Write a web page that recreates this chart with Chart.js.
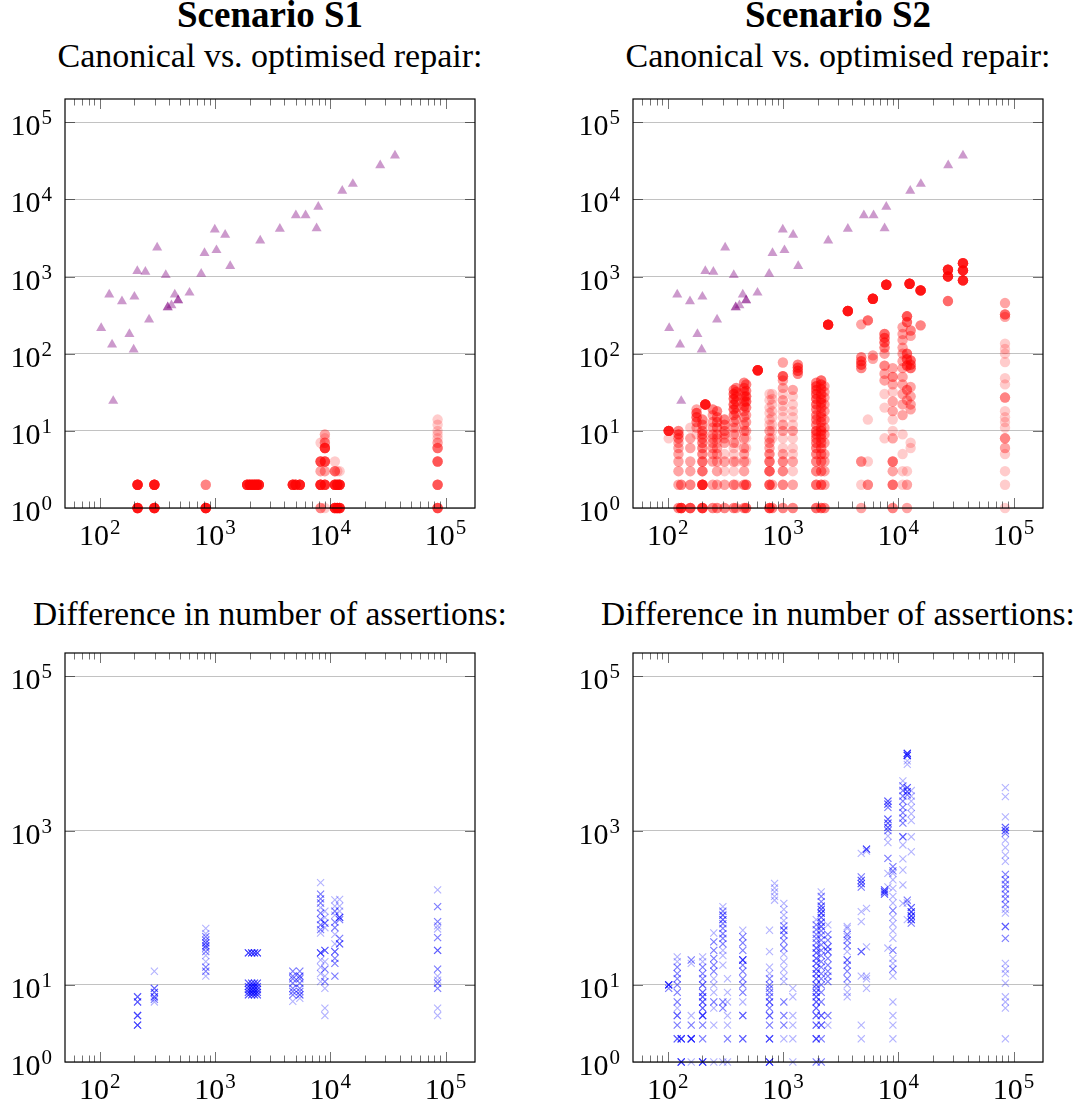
<!DOCTYPE html>
<html>
<head>
<meta charset="utf-8">
<script src="https://cdn.jsdelivr.net/npm/chart.js@4.4.0/dist/chart.umd.min.js"></script>
<style>
    html, body { margin: 0; padding: 0; background: #fff; }
    body { width: 1078px; height: 1105px; position: relative; overflow: hidden; font-family: 'Liberation Serif', serif; color: #000; }
    .title { position: absolute; width: 540px; text-align: center; line-height: 1; white-space: nowrap; }
    .head { font-weight: bold; font-size: 37px; }
    .sub { font-size: 34px; }
    canvas { position: absolute; }
</style>
</head>
<body>
<div class="title head" style="left:0; top:-4px">Scenario S1</div>
<div class="title head" style="left:568px; top:-4px">Scenario S2</div>
<div class="title sub" style="left:0; top:39px">Canonical vs. optimised repair:</div>
<div class="title sub" style="left:568px; top:39px">Canonical vs. optimised repair:</div>
<div class="title sub" style="left:0; top:597px; font-size:33.5px">Difference in number of assertions:</div>
<div class="title sub" style="left:568px; top:597px; font-size:33.5px">Difference in number of assertions:</div>

<canvas id="s1Repair"></canvas>
<canvas id="s2Repair"></canvas>
<canvas id="s1Diff"></canvas>
<canvas id="s2Diff"></canvas>

<script>
// Axis ranges / ticks
const xRange = [50, 180000];
const yRange = [1, 200000];
const xMajor = [100, 1000, 10000, 100000];
const yTicksTop = [1, 10, 100, 1000, 10000, 100000];
const yTicksBottom = [1, 10, 1000, 100000];

// Canonical repair (same runs in both scenarios)
const canonX = [103, 121, 128, 131, 156, 181, 197, 200, 212, 249, 268, 315, 374, 389, 389, 419, 448, 479, 479, 601,
    759, 811, 996, 1030, 1225, 1355, 2467, 3652, 5029, 6105, 7609, 7870, 12700, 15700, 27100, 36400];
const canonY = [215, 582, 131, 24.4, 476, 180, 113, 548, 1175, 1153, 276, 2379, 1042, 398, 398, 423, 582, 491, 491, 617,
    1087, 2009, 4066, 2196, 3474, 1364, 2930, 4155, 6226, 6226, 4228, 8000, 12880, 15850, 27600, 36900];

// Optimised repair, per input size: [size, [[value, runs], ...]]
const s1Repair = [
    [213, [[2, 12], [1, 12]]],
    [298, [[2, 12], [1, 12]]],
    [832, [[2, 3], [1, 12]]],
    [1900, [[2, 10]]], [2000, [[2, 10]]], [2100, [[2, 10]]], [2200, [[2, 10]]], [2300, [[2, 10]]], [2400, [[2, 10]]],
    [4730, [[2, 10]]], [5000, [[2, 8]]], [5440, [[2, 10]]],
    [8240, [[7, 1], [4, 6], [3, 2], [2, 10], [1, 3]]],
    [8980, [[9, 2], [8, 1], [7, 3], [6, 8], [4, 6], [3, 2], [2, 8], [1, 1]]],
    [10960, [[4, 1], [3, 4], [2, 10], [1, 10]]],
    [11500, [[3, 1], [2, 8], [1, 10]]],
    [12050, [[3, 1], [2, 10], [1, 10]]],
    [85300, [[14, 1], [12, 1], [10, 1], [9, 1], [8, 1], [7, 2], [6, 4], [4, 5], [2, 5], [1, 6]]]
];

const s2Repair = [
    [102, [[10, 10], [8, 1]]],
    [124, [[10, 3], [9, 4], [8, 3], [7, 2], [6, 2], [5, 2], [4, 2], [3, 2], [2, 2], [1, 3]]],
    [131, [[2, 3], [1, 8]]],
    [157, [[11, 1], [8, 2], [6, 2], [4, 2], [3, 2], [2, 3], [1, 6]]],
    [178, [[19, 2], [17, 4], [15, 4], [13, 3], [11, 2], [9, 1]]],
    [200, [[14, 3], [12, 3], [10, 3], [9, 3], [8, 3], [7, 3], [6, 3], [5, 3], [4, 4], [3, 4], [2, 10], [1, 8]]],
    [212, [[22, 12]]],
    [246, [[19, 3], [16, 2], [13, 2], [11, 2], [9, 2], [8, 2], [7, 2], [6, 2], [5, 2], [4, 2], [2, 2], [1, 3]]],
    [268, [[18, 3], [15, 3], [13, 3], [11, 3], [9, 2], [8, 2], [7, 1], [6, 2], [5, 2], [4, 2], [3, 2], [2, 2], [1, 3]]],
    [311, [[14, 3], [12, 3], [10, 3], [9, 2], [8, 2], [7, 2], [5, 1], [4, 2], [3, 1], [2, 2], [1, 3]]],
    [374, [[34, 3], [30, 4], [26, 4], [22, 4], [19, 4], [16, 3], [13, 2], [11, 2], [9, 2], [7, 2], [6, 1], [5, 1], [4, 2], [3, 1], [2, 3], [1, 3]]],
    [392, [[36, 3], [32, 3], [28, 3], [24, 3], [20, 2], [17, 2], [14, 2], [11, 1], [9, 1], [7, 1], [4, 1], [2, 1], [1, 2]]],
    [460, [[42, 3], [36, 3], [32, 3], [28, 3], [24, 3], [21, 3], [18, 2], [15, 2], [12, 2], [10, 2], [8, 2], [6, 2], [5, 2], [4, 2], [3, 2], [2, 3], [1, 3]]],
    [479, [[40, 3], [33, 3], [28, 4], [24, 4], [20, 3], [16, 2], [13, 2], [10, 2], [8, 1], [6, 1], [4, 1], [2, 4], [1, 4]]],
    [604, [[61, 12]]],
    [764, [[30, 1], [25, 1], [20, 1], [17, 1], [14, 1], [12, 1], [10, 2], [8, 2], [7, 2], [6, 2], [5, 3], [4, 4], [3, 5], [2, 5], [1, 6]]],
    [806, [[30, 1], [26, 1], [22, 1], [18, 1], [15, 1], [12, 1], [10, 1], [8, 1], [2, 2], [1, 3]]],
    [998, [[77, 2], [51, 5], [45, 2], [36, 2], [30, 1], [25, 2], [21, 1], [18, 1], [15, 1], [12, 2], [10, 2], [8, 1], [6, 1], [5, 2], [4, 3], [3, 3], [2, 3], [1, 3]]],
    [1217, [[34, 2], [28, 1], [22, 1], [18, 1], [15, 1], [12, 1], [10, 2], [8, 1], [6, 1], [5, 1], [4, 2], [3, 1], [2, 2], [1, 3]]],
    [1345, [[72, 3], [66, 4], [60, 4], [55, 3]]],
    [1942, [[42, 3], [38, 4], [34, 4], [30, 4], [26, 4], [22, 4], [19, 3], [16, 3], [14, 3], [12, 3], [10, 4], [9, 3], [8, 3], [7, 3], [6, 3], [5, 3], [4, 3], [3, 3], [2, 4], [1, 4]]],
    [2143, [[45, 4], [40, 4], [35, 4], [30, 4], [26, 4], [23, 4], [20, 3], [17, 3], [15, 3], [13, 3], [11, 3], [10, 3], [9, 3], [8, 3], [7, 3], [6, 3], [5, 3], [4, 3], [3, 3], [2, 4], [1, 4]]],
    [2290, [[38, 2], [32, 2], [27, 2], [22, 2], [18, 2], [14, 2], [11, 2], [9, 2], [7, 2], [5, 2], [4, 2], [3, 2], [2, 2], [1, 3]]],
    [2462, [[238, 12]]],
    [3651, [[357, 12]]],
    [4774, [[240, 2], [90, 3], [80, 4], [72, 4], [65, 3], [4, 3], [2, 1], [1, 2]]],
    [5447, [[270, 4], [14, 1], [4, 1], [2, 3]]],
    [6021, [[516, 12], [95, 2], [86, 2]]],
    [7600, [[180, 4], [160, 4], [140, 4], [120, 3], [100, 2], [70, 3], [55, 2], [45, 2], [30, 1], [20, 1], [8, 1]]],
    [7870, [[783, 12]]],
    [8950, [[65, 2], [50, 3], [40, 2], [32, 1], [24, 2], [18, 2], [14, 1], [10, 1], [8, 2], [4, 4], [3, 2], [2, 4], [1, 3]]],
    [10900, [[220, 2], [180, 2], [150, 2], [120, 2], [100, 2], [80, 2], [65, 2], [50, 2], [40, 2], [30, 2], [22, 2], [16, 2], [9, 1], [5, 1], [3, 1], [2, 1]]],
    [11900, [[305, 5], [257, 4], [100, 4], [85, 4], [70, 4], [34, 3], [25, 2], [3, 1], [2, 2], [1, 2]]],
    [12530, [[807, 12]]],
    [12800, [[200, 3], [170, 2], [82, 4], [72, 4], [65, 4], [37, 2], [28, 2], [22, 2], [19, 2], [7, 1], [6, 1]]],
    [15620, [[661, 12], [233, 3]]],
    [26970, [[1225, 10], [1003, 10], [481, 4]]],
    [36390, [[1490, 10], [1200, 10], [891, 10]]],
    [84300, [[453, 2], [323, 4], [300, 2], [135, 1], [115, 1], [100, 1], [78, 1], [48, 1], [40, 1], [27, 3], [18, 1], [15, 1], [13, 1], [11, 1], [8, 3], [6, 2], [5, 1], [3, 1], [2, 1], [1, 1]]]
];

// Difference in number of assertions
const s1Diff = [
    [213, [[7, 3], [6, 3], [4, 4], [3, 4]]],
    [298, [[15, 1], [9, 3], [8, 3], [7, 3], [6.5, 2], [6, 1]]],
    [832, [[54, 1], [46, 1], [42, 2], [38, 2], [35, 3], [32, 3], [30, 2], [27, 2], [24, 1], [20, 1], [17, 2], [15, 2], [13, 1]]],
    [1950, [[26, 4], [10.5, 3], [9.5, 3], [8.7, 3], [8, 3], [7.4, 3]]],
    [2080, [[26, 4], [10.5, 3], [9.5, 3], [8.7, 3], [8, 3], [7.4, 3]]],
    [2200, [[26, 4], [10.5, 3], [9.5, 3], [8.7, 3], [8, 3], [7.4, 3]]],
    [2330, [[26, 4], [10.5, 3], [9.5, 3], [8.7, 3], [8, 3], [7.4, 3]]],
    [4730, [[15, 2], [13, 2], [12, 2], [10.5, 2], [9, 2], [8.2, 2], [7.4, 2], [6.1, 1]]],
    [5440, [[15, 2], [13, 3], [12, 2], [10.5, 2], [9, 2], [8.2, 2], [7.4, 3], [6.7, 1]]],
    [8240, [[211, 1], [150, 2], [130, 2], [115, 2], [100, 1], [85, 2], [70, 2], [60, 2], [52, 2], [47, 1], [26, 4], [21, 1], [17, 1], [14, 1], [11, 1]]],
    [8980, [[90, 1], [75, 1], [63, 3], [55, 1], [28, 3], [20, 1], [16, 2], [13, 1], [11, 2], [9, 1], [5, 1], [4, 1]]],
    [10960, [[126, 1], [105, 1], [90, 2], [80, 1], [65, 2], [55, 2], [45, 1], [34, 1], [27, 3], [22, 2], [19, 2], [13, 2]]],
    [12050, [[128, 1], [105, 1], [90, 1], [75, 4], [70, 2], [40, 2], [34, 3]]],
    [85300, [[170, 1], [103, 2], [66, 2], [58, 1], [53, 1], [41, 2], [28, 3], [16, 2], [13, 1], [11.5, 1], [10.5, 2], [9, 2], [5, 1], [4, 1]]]
];

const s2Diff = [
    [102, [[10, 6], [9, 2]]],
    [121, [[23, 1], [20, 1], [17, 2], [14, 2], [12, 2], [10, 2], [8, 2], [6, 2], [5, 1], [4, 3], [3, 2], [2, 3]]],
    [131, [[2, 5], [1, 5]]],
    [160, [[21, 2], [19, 1], [4, 1], [3, 2], [2, 6], [1, 1]]],
    [201, [[23, 1], [20, 1], [17, 2], [14, 2], [12, 2], [10, 3], [8, 3], [7, 3], [6, 3], [5, 3], [4, 5], [3, 2], [2, 2], [1, 5]]],
    [251, [[47, 1], [36, 2], [28, 2], [22, 2], [18, 2], [15, 2], [12, 1], [10, 1], [8, 1], [6, 2], [5, 1], [3, 1], [1, 1]]],
    [301, [[103, 1], [90, 2], [80, 3], [70, 3], [62, 2], [54, 2], [46, 2], [40, 2], [34, 2], [28, 1], [24, 1], [18, 1], [6, 2], [5, 2], [1, 1]]],
    [330, [[12, 1], [8, 1], [6, 1], [4, 1], [3, 1], [2, 2], [1, 1]]],
    [448, [[51, 1], [42, 2], [35, 2], [28, 2], [21, 5], [18, 2], [15, 2], [12, 2], [10, 2], [8, 2], [6, 1], [4, 3], [2, 3]]],
    [764, [[51, 1], [27, 1], [17, 1], [14, 1], [12, 2], [10, 2], [9, 2], [8, 2], [7, 2], [6, 3], [5, 2], [4, 3], [3, 2], [2, 4], [1, 5]]],
    [845, [[207, 1], [180, 1], [160, 1], [140, 1], [125, 1]]],
    [1017, [[114, 1], [95, 1], [80, 1], [68, 1], [58, 2], [51, 3], [44, 2], [37, 2], [30, 2], [25, 1], [20, 1], [16, 1], [13, 1], [11, 1], [6, 2], [4, 2], [3, 2], [2, 1]]],
    [1217, [[9, 1], [7, 1], [4, 1], [3, 1], [2, 1], [1, 1]]],
    [1942, [[70, 1], [60, 2], [52, 2], [45, 2], [40, 2], [35, 2], [30, 3], [26, 3], [22, 3], [19, 3], [16, 3], [14, 3], [12, 3], [10, 3], [9, 2], [8, 3], [7, 3], [6, 3], [5, 3], [4, 3], [3, 3], [2, 4], [1, 2]]],
    [2146, [[160, 1], [140, 2], [120, 2], [105, 3], [95, 3], [85, 4], [75, 3], [65, 3], [57, 3], [50, 2], [44, 2], [38, 2], [33, 2], [28, 2], [24, 2], [20, 2], [17, 2], [14, 2], [12, 2], [10, 2], [8, 2], [6, 2], [4, 3], [3, 3], [2, 2], [1, 2]]],
    [2450, [[60, 1], [45, 2], [38, 2], [31, 3], [27, 3], [22, 2], [18, 2], [15, 2], [13, 2], [11, 2], [4, 2], [3, 1]]],
    [3606, [[57, 1], [54, 1], [45, 2], [42, 1], [38, 2], [32, 2], [27, 1], [21, 3], [18, 2], [15, 2], [12, 2], [10, 1], [8, 1], [7, 1]]],
    [4774, [[505, 1], [250, 2], [225, 3], [205, 3], [185, 2], [89, 1], [66, 1], [27, 3], [13, 1], [3, 1], [2, 1]]],
    [5300, [[573, 4], [540, 1], [98, 1], [31, 1], [13, 1], [12, 1], [9, 1]]],
    [7600, [[170, 3], [160, 4], [150, 3]]],
    [8130, [[2400, 3], [2200, 3], [2000, 2], [1400, 3], [1250, 3], [1100, 3], [1000, 2], [850, 1], [700, 1], [436, 2], [279, 1], [186, 1], [30, 1]]],
    [8980, [[340, 2], [300, 2], [279, 1], [230, 1], [178, 1], [140, 1], [115, 1], [92, 2], [75, 1], [62, 1], [50, 1], [40, 1], [28, 2], [22, 1], [19, 1], [16, 2], [13, 1], [6, 1], [4, 1], [3, 1], [2, 1]]],
    [10960, [[4400, 1], [3800, 2], [3300, 2], [2800, 2], [2400, 2], [2000, 2], [1700, 2], [1450, 2], [1250, 2], [830, 3], [650, 1], [430, 1], [308, 1], [197, 1], [114, 1]]],
    [11970, [[10000, 5], [9400, 5], [8000, 1], [7200, 1], [3600, 3], [3200, 3], [2900, 2], [125, 2], [115, 1], [70, 1]]],
    [12960, [[3300, 1], [2800, 1], [2400, 1], [2000, 1], [1650, 1], [1350, 1], [830, 1], [531, 1], [100, 3], [88, 4], [78, 4], [70, 4], [63, 2]]],
    [84900, [[3600, 1], [2750, 1], [1500, 1], [1100, 3], [1000, 3], [920, 2], [750, 1], [600, 1], [480, 1], [400, 1], [270, 2], [230, 2], [200, 2], [175, 2], [150, 2], [130, 2], [110, 2], [95, 1], [85, 1], [57, 3], [40, 2], [19, 1], [16, 1], [14, 1], [10.5, 1], [7, 1], [6, 1], [5, 1], [2, 1]]]
];

// Layout
const PAD = { l: 64, t: 12, r: 12, b: 46 };
const BOX = 410;
const BOXH = 409;
const FONT = "'Liberation Serif', serif";

// every run is one semi-transparent mark, so repeated runs darken
function expand(cols) {
    const pts = [];
    cols.forEach(([x, runs]) => runs.forEach(([y, n]) => {
        for (let i = 0; i < n; i++) pts.push({ x: x, y: y });
    }));
    return pts;
}

const canonPts = canonX.map((x, i) => ({ x: x, y: canonY[i] }));

function triangles() {
    return { data: canonPts, pointStyle: 'triangle', pointRadius: 5.8, backgroundColor: 'rgba(128,0,128,0.4)', borderWidth: 0, clip: false };
}
function circles(cols) {
    return { data: expand(cols), pointStyle: 'circle', pointRadius: 5.2, backgroundColor: 'rgba(255,0,0,0.2)', borderWidth: 0, clip: false };
}
function crosses(cols) {
    return { data: expand(cols), pointStyle: 'crossRot', pointRadius: 5, borderColor: 'rgba(0,0,255,0.3)', borderWidth: 1.1, clip: false };
}

// "10" with a raised exponent
function drawPow(ctx, exp, x, base, align) {
    ctx.font = '30px ' + FONT;
    const w10 = ctx.measureText('10').width;
    ctx.font = '21px ' + FONT;
    const we = ctx.measureText(String(exp)).width;
    const start = align === 'right' ? x - we - w10 - 1 : x - (w10 + 1 + we) / 2;
    ctx.fillStyle = '#000';
    ctx.textAlign = 'left';
    ctx.textBaseline = 'alphabetic';
    ctx.font = '30px ' + FONT;
    ctx.fillText('10', start, base);
    ctx.font = '21px ' + FONT;
    ctx.fillText(String(exp), start + w10 + 1, base - 11);
}

// frame, inward ticks and labels (pgfplots style)
const axisFrame = {
    id: 'axisFrame',
    afterDraw(chart) {
        const ctx = chart.ctx;
        const a = chart.chartArea;
        const xs = chart.scales.x, ys = chart.scales.y;
        const yTicks = chart.options.plugins.axisFrame.yTicks;
        ctx.save();
        ctx.strokeStyle = 'rgba(0,0,0,0.55)';
        ctx.lineWidth = 1;
        ctx.beginPath();
        for (let k = 1; k <= 5; k++) {
            for (let m = 1; m <= 9; m++) {
                const v = m * Math.pow(10, k);
                if (v <= xRange[0] || v >= xRange[1]) continue;
                const px = Math.round(xs.getPixelForValue(v)) + 0.5;
                const len = m === 1 ? 10 : 6.5;
                ctx.moveTo(px, a.bottom); ctx.lineTo(px, a.bottom - len);
                ctx.moveTo(px, a.top); ctx.lineTo(px, a.top + len);
            }
        }
        yTicks.forEach(v => {
            if (v <= yRange[0]) return;
            const py = Math.round(ys.getPixelForValue(v)) + 0.5;
            ctx.moveTo(a.left, py); ctx.lineTo(a.left + 10, py);
            ctx.moveTo(a.right, py); ctx.lineTo(a.right - 10, py);
        });
        ctx.stroke();

        ctx.strokeStyle = '#000';
        ctx.lineWidth = 1.2;
        ctx.strokeRect(a.left, a.top, a.right - a.left, a.bottom - a.top);

        xMajor.forEach(v => drawPow(ctx, Math.round(Math.log10(v)), xs.getPixelForValue(v), a.bottom + 37, 'center'));
        yTicks.forEach(v => drawPow(ctx, Math.round(Math.log10(v)), a.left - 13, ys.getPixelForValue(v) + 13, 'right'));
        ctx.restore();
    }
};

function makePanel(id, left, top, yTicks, datasets) {
    const cv = document.getElementById(id);
    cv.width = BOX + PAD.l + PAD.r;
    cv.height = BOXH + PAD.t + PAD.b;
    cv.style.left = (left - PAD.l) + 'px';
    cv.style.top = (top - PAD.t) + 'px';
    return new Chart(cv.getContext('2d'), {
        type: 'scatter',
        data: { datasets: datasets },
        options: {
            responsive: false,
            animation: false,
            events: [],
            layout: { padding: { left: PAD.l, top: PAD.t, right: PAD.r, bottom: PAD.b } },
            plugins: { legend: { display: false }, tooltip: { enabled: false }, axisFrame: { yTicks: yTicks } },
            scales: {
                x: {
                    type: 'logarithmic', min: xRange[0], max: xRange[1],
                    ticks: { display: false }, grid: { display: false }, border: { display: false },
                    afterFit: s => { s.height = 0; }
                },
                y: {
                    type: 'logarithmic', min: yRange[0], max: yRange[1],
                    ticks: { display: false },
                    grid: { color: '#c2c2c2', lineWidth: 1, drawTicks: false },
                    border: { display: false },
                    afterBuildTicks: s => { s.ticks = yTicks.map(v => ({ value: v })); },
                    afterFit: s => { s.width = 0; }
                }
            }
        },
        plugins: [axisFrame]
    });
}

// 1. Scenario S1, repair size
makePanel('s1Repair', 65, 99, yTicksTop, [triangles(), circles(s1Repair)]);
// 2. Scenario S2, repair size
makePanel('s2Repair', 633, 99, yTicksTop, [triangles(), circles(s2Repair)]);
// 3. Scenario S1, assertion difference
makePanel('s1Diff', 65, 653, yTicksBottom, [crosses(s1Diff)]);
// 4. Scenario S2, assertion difference
makePanel('s2Diff', 633, 653, yTicksBottom, [crosses(s2Diff)]);
</script>
</body>
</html>
